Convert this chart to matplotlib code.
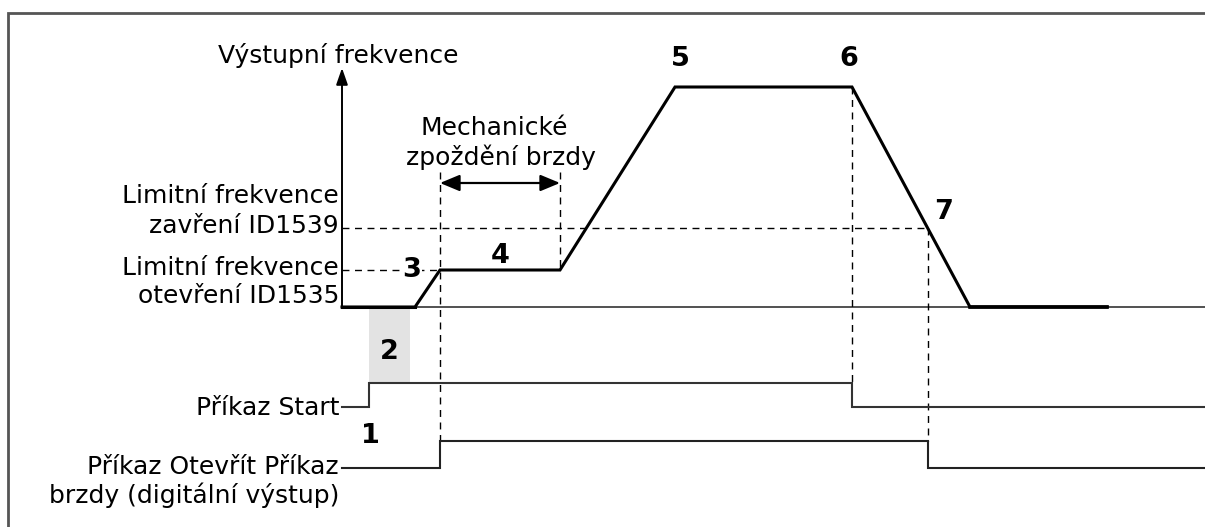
import matplotlib
matplotlib.use("Agg")
import matplotlib.pyplot as plt
from matplotlib.patches import Rectangle, FancyArrowPatch

# --- diagram data (time positions / levels in drawing units) ---
t_axis = 342
t_end = 1205
lvl_zero = 307
lvl_open = 270
lvl_close = 228
lvl_max = 87

freq_t = [342, 415, 440, 560, 675, 852, 970, 1107]
freq_v = [307, 307, 270, 270, 87, 87, 307, 307]

start_t = [342, 369, 369, 852, 852, 1205]
start_v = [407, 407, 383, 383, 407, 407]

brake_t = [342, 440, 440, 928, 928, 1205]
brake_v = [468, 468, 441, 441, 468, 468]

left_lines = ["Limitní frekvence", "zavření ID1539",
              "Limitní frekvence", "otevření ID1535",
              "Příkaz Start",
              "Příkaz Otevřít Příkaz", "brzdy (digitální výstup)"]
left_y = [196, 226, 268, 296, 408, 467, 495]

marker_labels = ["1", "2", "3", "4", "5", "6", "7"]
marker_x = [370, 389, 412, 500, 680, 849, 944]
marker_y = [436, 352, 270, 256, 59, 59, 212]

fig = plt.figure(figsize=(12.05, 5.27), dpi=100)
ax = fig.add_axes([0, 0, 1, 1])
ax.set_xlim(0, 1205)
ax.set_ylim(527, 0)
ax.axis("off")

FONT = "DejaVu Sans"
fs = 18

# frame (top and left)
ax.plot([8, 8, 1205], [527, 13, 13], color="#555555", lw=2, solid_joinstyle="miter")

# gray box (2)
ax.add_patch(Rectangle((369, 307), 41, 76, facecolor="#e3e3e3", edgecolor="none", zorder=1))

# baseline
ax.plot([t_axis, t_end], [lvl_zero, lvl_zero], color="#333333", lw=1.2, zorder=2)
ax.plot([t_axis, 415], [lvl_zero, lvl_zero], color="black", lw=2.2, zorder=3)
ax.plot([970, 1107], [lvl_zero, lvl_zero], color="black", lw=2.6, zorder=3)

# y axis with arrow
ax.annotate("", xy=(t_axis, 68), xytext=(t_axis, lvl_zero + 1),
            arrowprops=dict(arrowstyle="-|>,head_length=1.0,head_width=0.35",
                            color="black", lw=1.4, shrinkA=0, shrinkB=0))

# frequency curve
ax.plot(freq_t, freq_v, color="black", lw=2.2, solid_joinstyle="miter", zorder=4)

# dashed guides
dash = dict(color="black", lw=1.0, ls=(0, (5, 4)), zorder=2)
ax.plot([t_axis, 440], [lvl_open, lvl_open], **dash)
ax.plot([t_axis, 928], [lvl_close, lvl_close], **dash)
ax.plot([440, 440], [172, 441], **dash)
ax.plot([560, 560], [172, lvl_open], **dash)
ax.plot([852, 852], [lvl_max, 383], **dash)
ax.plot([928, 928], [lvl_close, 441], **dash)

# double arrow
ax.add_patch(FancyArrowPatch((440, 183), (560, 183),
                             arrowstyle="<|-|>,head_length=12,head_width=5",
                             mutation_scale=1, color="black", lw=1.6,
                             shrinkA=0, shrinkB=0))

# command signals
ax.plot(start_t, start_v, color="#333333", lw=1.5, solid_joinstyle="miter")
ax.plot(brake_t, brake_v, color="#222222", lw=1.5, solid_joinstyle="miter")

# texts
ax.text(338, 55, "Výstupní frekvence", ha="center", va="center", fontsize=fs, family=FONT)
ax.text(494, 128, "Mechanické", ha="center", va="center", fontsize=fs, family=FONT)
ax.text(501, 157, "zpoždění brzdy", ha="center", va="center", fontsize=fs, family=FONT)
for s, y in zip(left_lines, left_y):
    ax.text(339, y, s, ha="right", va="center", fontsize=fs, family=FONT)

bold = dict(ha="center", va="center", fontsize=19.5, fontweight="bold", family=FONT)
for s, x, y in zip(marker_labels, marker_x, marker_y):
    kw = dict(bold)
    if s == "3":
        kw["bbox"] = dict(facecolor="white", edgecolor="none", pad=0.5)
    ax.text(x, y, s, **kw)

fig.savefig("out.png", dpi=100)
